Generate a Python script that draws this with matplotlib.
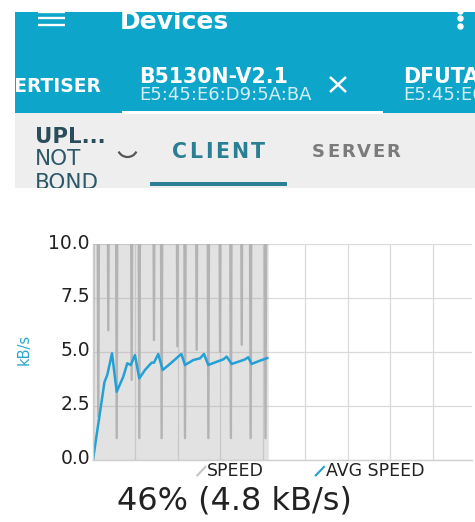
import matplotlib
matplotlib.use("Agg")
import matplotlib.pyplot as plt
from matplotlib.lines import Line2D
from matplotlib.patches import Rectangle, Arc
from matplotlib.legend_handler import HandlerBase
from matplotlib.transforms import ScaledTranslation

# ---------------- data ----------------
# SPEED series (kB/s); values above 10 are off the chart
speed_t = [0.0, 0.3, 0.9, 1.25, 1.6, 3.25, 3.6, 3.95, 5.25, 5.58, 5.9,
           8.75, 9.1, 9.45, 10.55, 10.9, 11.25, 14.0, 14.35, 14.7,
           15.8, 16.15, 16.5, 19.5, 19.85, 20.2, 21.3, 21.65, 22.0,
           24.05, 24.4, 24.75, 26.8, 27.15, 27.5, 29.55, 29.9, 30.25,
           32.1, 32.45, 32.8, 34.65, 35.0, 35.35, 36.75, 37.1, 37.45,
           40.25, 40.6, 40.95, 41.25]
speed_v = [0.0, 24, 24, 2.0, 24, 24, 6.0, 24, 24, 1.0, 24,
           24, 3.7, 24, 24, 1.0, 24, 24, 5.55, 24,
           24, 1.0, 24, 24, 5.26, 24, 24, 1.0, 24,
           24, 5.1, 24, 24, 1.0, 24, 24, 5.0, 24,
           24, 1.0, 24, 24, 5.33, 24, 24, 1.0, 24,
           24, 1.0, 24, 24]
# AVG SPEED series (kB/s)
avg_t = [0.0, 2.7, 3.36, 4.47, 5.58, 7.13, 8.07, 8.87, 9.88, 10.89, 12.24,
         13.81, 14.35, 15.36, 16.4, 18.12, 20.07, 20.8, 21.65, 23.6, 25.18,
         26.12, 27.13, 29.1, 30.66, 31.46, 32.64, 34.19, 35.76, 36.54,
         37.34, 39.29, 41.01]
avg_v = [0.0, 3.6, 3.93, 4.93, 3.15, 3.85, 4.47, 4.39, 4.85, 3.77, 4.16,
         4.5, 4.5, 4.9, 4.16, 4.44, 4.78, 4.9, 4.39, 4.62, 4.7,
         4.9, 4.39, 4.54, 4.65, 4.78, 4.44, 4.54, 4.65, 4.75,
         4.44, 4.59, 4.71]
y_ticks = [0.0, 2.5, 5.0, 7.5, 10.0]
y_tick_labels = ["0.0", "2.5", "5.0", "7.5", "10.0"]
x_grid = [0, 10, 20, 30, 40, 50, 60, 70, 80]
series_labels = ["SPEED", "AVG SPEED"]
progress_text = "46% (4.8 kB/s)"

# ---------------- figure ----------------
W, H = 475, 522
plt.rcParams['font.family'] = ['DejaVu Sans']
fig = plt.figure(figsize=(W / 100, H / 100), dpi=100)
fig.patch.set_facecolor('white')

def fx(x):
    return x / W

def fy(y):
    return 1 - y / H

def rect(x0, y0, x1, y1, color, z=1):
    r = Rectangle((fx(x0), fy(y1)), fx(x1) - fx(x0), fy(y0) - fy(y1),
                  transform=fig.transFigure, facecolor=color,
                  edgecolor='none', zorder=z)
    fig.add_artist(r)

def line(xs, ys, color, lw, z=5, **kw):
    l = Line2D([fx(v) for v in xs], [fy(v) for v in ys], color=color, lw=lw,
               transform=fig.transFigure, zorder=z, solid_capstyle='butt', **kw)
    fig.add_artist(l)

def txt(x, y, s, size, color, weight='normal', ha='left', z=5, **kw):
    return fig.text(fx(x), fy(y), s, fontsize=size, color=color,
                    fontweight=weight, ha=ha, va='baseline', zorder=z, **kw)

renderer = fig.canvas.get_renderer()

def spaced(x, y, s, size, color, weight, gap):
    for ch in s:
        t = txt(x, y, ch, size, color, weight)
        x += t.get_window_extent(renderer=renderer).width + gap

# ---------------- header ----------------
TEAL = '#0ea5ca'
rect(0, 0, W, 113, TEAL, 1)
rect(0, 113, W, 188, '#eeeeee', 1)

# hamburger & overflow
for yy in (11.6, 18.3, 25.0):
    line([38, 65], [yy, yy], 'white', 1.7)
line([460, 460, 460], [10.5, 18.2, 25.9], 'white', 0, marker='o',
     ls='none', ms=3.6, mfc='white', mec='white')
txt(120, 29, "Devices", 18, 'white', 'bold')

# device tabs
txt(102, 92, "ADVERTISER", 13.4, 'white', 'bold', ha='right')
txt(139, 83, "B5130N-V2.1", 14.8, 'white', 'bold')
txt(139, 100, "E5:45:E6:D9:5A:BA", 13.0, '#d3eef6')
line([330, 346], [77, 92], 'white', 1.8)
line([330, 346], [92, 77], 'white', 1.8)
txt(403, 83, "DFUTARG", 14.8, 'white', 'bold')
txt(403, 100, "E5:45:E6:D9:5A:BA", 13.0, '#d3eef6')
rect(122, 110.5, 383, 113.5, 'white', 2)

# sub bar
txt(35, 143, "UPL...", 15.3, '#2b4d5b', 'bold')
txt(35, 165, "NOT", 15.5, '#2b5968')
txt(35, 189, "BOND", 15.5, '#2b5968')
arc = Arc((fx(127.5), fy(147)), 20 / W, 20 / H, theta1=205, theta2=335,
          transform=fig.transFigure, color='#555555', lw=1.6, zorder=5)
fig.add_artist(arc)
spaced(172, 158, "CLIENT", 14.8, '#2b7f94', 'bold', 2.4)
spaced(312, 157, "SERVER", 13.0, '#7b7b7b', 'bold', 1.9)
rect(150, 182, 287, 186, '#2b7f94', 2)

# white masks (screen crop)
rect(0, 188, W, 215, 'white', 10)
rect(0, 0, W, 12, 'white', 10)
rect(0, 0, 15, 188, 'white', 10)

# ---------------- chart ----------------
ax = fig.add_axes([fx(93), fy(459.7), 379 / W, (459.7 - 244) / H])
ax.set_xlim(0, 89.2)
ax.set_ylim(0, 10)
ax.set_axisbelow(True)
ax.set_xticks(x_grid)
ax.set_xticklabels([])
ax.set_yticks(y_ticks)
ax.set_yticklabels(y_tick_labels)
ax.tick_params(length=0, labelsize=13.5, labelcolor='#222222', pad=2.2)
ax.grid(True, color='#dadada', lw=0.9)
for s in ('top', 'right'):
    ax.spines[s].set_visible(False)
for s in ('left', 'bottom'):
    ax.spines[s].set_color('#cfcfcf')
    ax.spines[s].set_linewidth(1.0)
for lab in ax.get_yticklabels():
    lab.set_transform(lab.get_transform() +
                      ScaledTranslation(0, 3 / 100, fig.dpi_scale_trans))

ax.fill_between(speed_t, speed_v, 0, color='#a0a0a0', alpha=0.3, lw=0)
ax.plot(speed_t, speed_v, color='#b3b3b3', lw=1.7)
ax.plot(avg_t, avg_v, color='#24a0d4', lw=1.8)

fig.text(fx(24), fy(349), "kB/s", rotation=90, ha='center', va='center',
         fontsize=10.5, color='#29a8cb')


class SlashHandler(HandlerBase):
    def create_artists(self, legend, orig_handle, xdescent, ydescent,
                       width, height, fontsize, trans):
        x0, y0 = -xdescent, -ydescent
        l = Line2D([x0 + 0.15 * width, x0 + width],
                   [y0 + 0.05 * height, y0 + 0.75 * height],
                   color=orig_handle.get_color(), lw=1.5, transform=trans)
        return [l]


handles = [Line2D([], [], color='#c4c4c4'), Line2D([], [], color='#24a0d4')]
fig.legend(handles, series_labels, loc='center', ncol=2,
           bbox_to_anchor=(fx(310), fy(471)), bbox_transform=fig.transFigure,
           frameon=False, fontsize=12.5, handlelength=0.55,
           handletextpad=0.1, columnspacing=2.9, borderpad=0,
           handler_map={Line2D: SlashHandler()},
           labelcolor='#222222')

fig.text(fx(234.5), fy(509), progress_text, ha='center', va='baseline',
         fontsize=23, color='#222222')

fig.savefig("out.png", dpi=100, facecolor='white')
